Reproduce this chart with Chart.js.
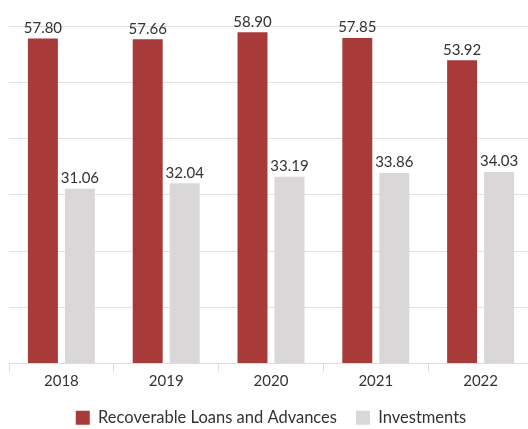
<!DOCTYPE html>
<html>
<head>
<meta charset="utf-8">
<script src="https://cdn.jsdelivr.net/npm/chart.js@4"></script>
<style>
  html, body { margin: 0; padding: 0; overflow: hidden; background: #fff; }
  #wrap { width: 534px; height: 429px; position: relative; }
</style>
</head>
<body>
<div id="wrap"><canvas id="c"></canvas></div>
<script>
const categories = ['2018', '2019', '2020', '2021', '2022'];
const loansAdvances = [57.80, 57.66, 58.90, 57.85, 53.92];
const investments = [31.06, 32.04, 33.19, 33.86, 34.03];
const seriesNames = ['Recoverable Loans and Advances', 'Investments'];

const valueLabels = {
  id: 'valueLabels',
  afterDatasetsDraw(chart) {
    const ctx = chart.ctx;
    ctx.save();
    ctx.font = '15px Lato';
    ctx.fillStyle = '#333333';
    ctx.textAlign = 'center';
    ctx.textBaseline = 'bottom';
    chart.data.datasets.forEach((ds, i) => {
      chart.getDatasetMeta(i).data.forEach((bar, j) => {
        ctx.fillText(ds.data[j].toFixed(2), bar.x, bar.y - 3);
      });
    });
    ctx.restore();
  }
};

new Chart(document.getElementById('c'), {
  type: 'bar',
  data: {
    labels: categories,
    datasets: [
      { label: seriesNames[0], data: loansAdvances, backgroundColor: '#a93a3a' },
      { label: seriesNames[1], data: investments, backgroundColor: '#dad7d8' }
    ]
  },
  options: {
    responsive: true,
    maintainAspectRatio: false,
    animation: false,
    categoryPercentage: 0.706,
    barPercentage: 0.81,
    layout: { padding: { left: 9, right: 1, top: 26, bottom: -7 } },
    scales: {
      x: {
        grid: { offset: true, drawOnChartArea: false, color: '#dddddd', tickLength: 8 },
        border: { color: '#dddddd' },
        ticks: { color: '#333333', font: { family: 'Lato', size: 15, lineHeight: 1.0 }, padding: 2 }
      },
      y: {
        min: 0, max: 60,
        ticks: { display: false, stepSize: 10 },
        grid: { color: '#e2e2e2', drawTicks: false },
        border: { display: false }
      }
    },
    plugins: {
      legend: {
        position: 'bottom',
        labels: { boxWidth: 14, boxHeight: 14, color: '#333333', font: { family: 'Lato', size: 16.5 }, padding: 19 }
      },
      tooltip: { enabled: false }
    }
  },
  plugins: [valueLabels]
});
</script>
</body>
</html>
